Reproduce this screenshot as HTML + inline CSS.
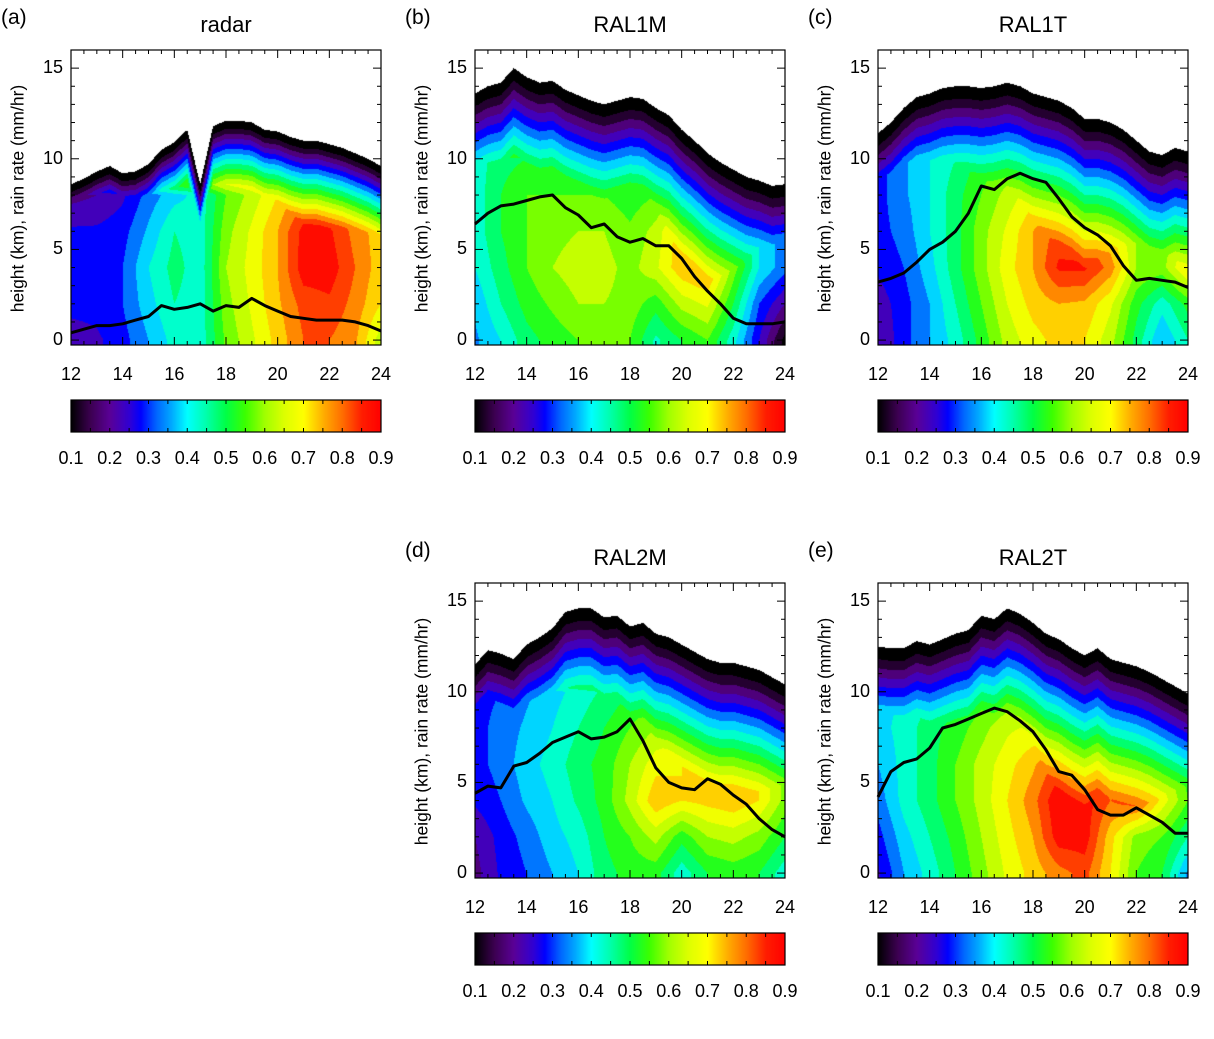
<!DOCTYPE html>
<html><head><meta charset="utf-8"><style>
body{margin:0;background:#fff;width:1214px;height:1039px;position:relative;overflow:hidden;font-family:"Liberation Sans",sans-serif}
.t{position:absolute;color:#000;white-space:nowrap}
canvas{position:absolute}
svg{position:absolute;left:0;top:0}
</style></head><body>
<svg id="ov" width="1214" height="1039"></svg>
<script>
const hourCols=[12,13,14,15,16,17,18,19,20,21,22,23,24];
const heightRows=[0,2,4,6,8,10,12,14,16];
const halfHours=[12,12.5,13,13.5,14,14.5,15,15.5,16,16.5,17,17.5,18,18.5,19,19.5,20,20.5,21,21.5,22,22.5,23,23.5,24];
const xTicks=[12,14,16,18,20,22,24];
const yTicks=[0,5,10,15];
const cbTicks=[0.1,0.2,0.3,0.4,0.5,0.6,0.7,0.8,0.9];
const HI=[.9,.9,.9,.9,.9,.9,.9,.9,.9,.9,.9,.9,.9];

const topA=[8.6,8.9,9.3,9.6,9.2,9.3,9.7,10.5,10.9,11.6,8.6,11.8,12.1,12.1,12,11.6,11.5,11.2,11,11,10.8,10.6,10.3,10,9.6];
const rainA=[0.4,0.6,0.8,0.8,0.9,1.1,1.3,1.9,1.7,1.8,2.0,1.6,1.9,1.8,2.3,1.9,1.6,1.3,1.2,1.1,1.1,1.1,1.0,0.8,0.5];
const gridA=[[.22,.24,.28,.35,.42,.42,.56,.64,.72,.80,.80,.76,.62],
[.27,.27,.30,.38,.45,.42,.58,.66,.74,.82,.84,.78,.70],
[.28,.28,.30,.40,.47,.42,.60,.67,.75,.88,.88,.80,.72],
[.26,.26,.28,.36,.45,.42,.58,.66,.75,.87,.86,.78,.72],
[.18,.20,.24,.32,.38,.42,.55,.62,.70,.78,.78,.72,.65],
HI,HI,HI,HI];

const topB=[13.6,14,14.2,15,14.5,14.2,14.3,13.8,13.5,13.2,13,13.2,13.4,13.3,12.8,12.4,11.6,11.0,10.3,9.8,9.4,9.0,8.8,8.5,8.6];
const rainB=[6.4,7,7.4,7.5,7.7,7.9,8,7.3,6.9,6.2,6.4,5.7,5.4,5.6,5.2,5.2,4.5,3.5,2.7,2,1.2,0.9,0.9,0.9,1.0];
const gridB=[[.34,.40,.48,.52,.55,.55,.55,.44,.50,.55,.42,.25,.08],
[.36,.45,.52,.56,.60,.60,.58,.52,.62,.66,.50,.30,.20],
[.40,.48,.55,.60,.63,.62,.58,.64,.74,.78,.58,.40,.32],
[.42,.50,.55,.58,.60,.60,.56,.62,.74,.76,.55,.40,.32],
[.42,.50,.55,.55,.55,.55,.52,.55,.60,.58,.48,.40,.32],
[.42,.48,.50,.50,.50,.50,.48,.50,.50,.45,.40,.35,.30],
HI,HI,HI];

const topC=[11.4,12,12.8,13.4,13.6,13.9,14,14,13.9,14,14.2,14,13.6,13.4,13.2,12.8,12.2,12.2,12,11.6,11.0,10.4,10.2,10.6,10.4];
const rainC=[3.2,3.4,3.7,4.3,5,5.4,6,7,8.5,8.3,8.9,9.2,8.9,8.7,7.8,6.8,6.2,5.8,5.2,4.1,3.3,3.4,3.3,3.2,2.9];
const gridC=[[.20,.28,.35,.42,.52,.62,.68,.72,.70,.62,.48,.35,.45],
[.22,.28,.35,.45,.55,.65,.72,.75,.74,.66,.52,.42,.52],
[.26,.30,.38,.48,.58,.68,.75,.86,.86,.78,.60,.58,.72],
[.28,.32,.40,.48,.58,.66,.75,.82,.80,.70,.60,.56,.65],
[.28,.34,.40,.48,.55,.62,.68,.70,.68,.62,.55,.50,.50],
[.28,.34,.40,.45,.52,.55,.58,.58,.55,.52,.48,.45,.45],
HI,HI,HI];

const topD=[11.5,12.3,12.1,11.8,12.6,13,13.5,14.4,14.6,14.6,14.1,14.2,13.6,13.8,13.2,13,12.6,12.2,11.8,11.6,11.6,11.4,11.2,10.8,10.4];
const rainD=[4.4,4.8,4.7,5.9,6.1,6.6,7.2,7.5,7.8,7.4,7.5,7.8,8.5,7.3,5.8,5,4.7,4.6,5.2,4.9,4.3,3.8,3,2.4,2.0];
const gridD=[[.18,.26,.30,.35,.40,.48,.52,.52,.42,.50,.52,.50,.42],
[.20,.27,.32,.38,.42,.50,.55,.62,.52,.60,.62,.58,.50],
[.26,.30,.36,.40,.46,.52,.62,.74,.70,.72,.74,.70,.58],
[.28,.32,.38,.42,.48,.52,.60,.68,.70,.78,.78,.70,.58],
[.28,.32,.36,.40,.45,.50,.55,.60,.62,.64,.62,.56,.50],
[.28,.30,.34,.38,.42,.46,.50,.52,.52,.52,.50,.46,.42],
HI,HI,HI];

const topE=[12.5,12.4,12.4,12.8,12.6,12.9,13.2,13.4,14.2,14,14.6,14.3,13.8,13.2,12.9,12.4,12,12.4,11.8,11.6,11.4,11.1,10.7,10.3,9.9];
const rainE=[4.2,5.6,6.1,6.3,6.9,8,8.2,8.5,8.8,9.1,8.9,8.4,7.8,6.8,5.6,5.4,4.6,3.5,3.2,3.2,3.6,3.2,2.8,2.2,2.2];
const gridE=[[.24,.35,.42,.50,.58,.66,.72,.78,.82,.70,.55,.50,.34],
[.28,.38,.45,.52,.60,.68,.75,.88,.88,.72,.58,.55,.45],
[.32,.42,.48,.55,.62,.70,.78,.90,.88,.80,.84,.68,.55],
[.35,.42,.48,.55,.62,.68,.74,.82,.78,.74,.72,.62,.52],
[.38,.42,.48,.52,.58,.64,.66,.66,.64,.62,.60,.55,.48],
[.38,.40,.44,.48,.52,.55,.56,.56,.54,.52,.50,.46,.42],
HI,HI,HI];

const panels=[
 {id:'a',title:'radar',L:71,T:50,top:topA,rain:rainA,grid:gridA,rate:0.18,c0:0.02},
 {id:'b',title:'RAL1M',L:475,T:50,top:topB,rain:rainB,grid:gridB,rate:0.1,c0:0.03},
 {id:'c',title:'RAL1T',L:878,T:50,top:topC,rain:rainC,grid:gridC,rate:0.1,c0:0.03},
 {id:'d',title:'RAL2M',L:475,T:583,top:topD,rain:rainD,grid:gridD,rate:0.1,c0:0.03},
 {id:'e',title:'RAL2T',L:878,T:583,top:topE,rain:rainE,grid:gridE,rate:0.1,c0:0.03}];

const W=310,H=295,PPU=18.13,HMAX=16;
const stops=[[0.1,0,0,0],[0.15,60,0,80],[0.2,90,0,150],[0.25,50,0,210],[0.28,0,0,255],[0.32,0,100,255],[0.36,0,170,255],[0.4,0,255,255],[0.45,0,255,170],[0.5,0,255,70],[0.55,60,255,0],[0.6,160,255,0],[0.65,220,255,0],[0.7,255,255,0],[0.75,255,176,0],[0.8,255,110,0],[0.85,255,30,0],[0.9,255,0,0]];
function cmap(v){
 if(v<=stops[0][0])return stops[0].slice(1);
 for(let i=1;i<stops.length;i++){if(v<=stops[i][0]){const a=stops[i-1],b=stops[i],t=(v-a[0])/(b[0]-a[0]);return [0,1,2].map(k=>Math.round(a[k+1]+t*(b[k+1]-a[k+1])));}}
 return stops[stops.length-1].slice(1);
}
function interp1(xs,ys,x){if(x<=xs[0])return ys[0];for(let i=1;i<xs.length;i++){if(x<=xs[i]){const t=(x-xs[i-1])/(xs[i]-xs[i-1]);return ys[i-1]+t*(ys[i]-ys[i-1]);}}return ys[ys.length-1];}
function gridVal(g,x,h){
 let ci=Math.min(11,Math.max(0,Math.floor(x-12))),tx=Math.min(1,Math.max(0,x-12-ci));
 let hh=Math.max(0,h),ri=Math.min(7,Math.floor(hh/2)),ty=Math.min(1,(hh-ri*2)/2);
 const a=g[ri][ci]*(1-tx)+g[ri][ci+1]*tx,b=g[ri+1][ci]*(1-tx)+g[ri+1][ci+1]*tx;
 return a*(1-ty)+b*ty;
}
const ns='http://www.w3.org/2000/svg';
const ov=document.getElementById('ov');
function sv(tag,at){const e=document.createElementNS(ns,tag);for(const k in at)e.setAttribute(k,at[k]);ov.appendChild(e);return e;}
function txt(s,x,y,size){const d=document.createElement('div');d.className='t';d.textContent=s;d.style.left=x+'px';d.style.top=y+'px';d.style.fontSize=size+'px';document.body.appendChild(d);return d;}

panels.forEach(p=>{
 const xs=h=>p.L+(h-12)/12*W;
 const ys=v=>p.T+(HMAX-v)*PPU;
 const cv=document.createElement('canvas');cv.width=W;cv.height=H;cv.style.left=p.L+'px';cv.style.top=p.T+'px';
 
 
 document.body.insertBefore(cv,ov);
 const ctx=cv.getContext('2d'),img=ctx.createImageData(W,H);
 for(let px=0;px<W;px++){
  const x=12+(px+0.5)/W*12,tp=interp1(halfHours,p.top,x);
  for(let py=0;py<H;py++){
   const h=HMAX-(py+0.5)/PPU;const o=(py*W+px)*4;
   if(h>tp){img.data[o]=255;img.data[o+1]=255;img.data[o+2]=255;img.data[o+3]=255;continue;}
   let v=Math.min(gridVal(p.grid,x,h),p.c0+p.rate*(tp-h));
   let q=Math.floor(v/0.05)*0.05;
   const c=q<0.1?[0,0,0]:cmap(Math.min(0.9,q+0.03));
   img.data[o]=c[0];img.data[o+1]=c[1];img.data[o+2]=c[2];img.data[o+3]=255;
  }
 }
 ctx.putImageData(img,0,0);
 let d='';p.rain.forEach((r,i)=>{d+=(i?'L':'M')+xs(halfHours[i]).toFixed(1)+','+ys(r).toFixed(1);});
 const ln=sv('path',{d:d,fill:'none',stroke:'#000','stroke-width':3,'stroke-linejoin':'round'});
 
 
 const fr=sv('rect',{x:p.L,y:p.T,width:W,height:H,fill:'none',stroke:'#000','stroke-width':1.2});
 
 
 for(let h=12;h<=24;h+=0.5){const X=xs(h),len=(h%2===0)?8:4;sv('line',{x1:X,x2:X,y1:p.T+H,y2:p.T+H-len,stroke:'#000'});sv('line',{x1:X,x2:X,y1:p.T,y2:p.T+len,stroke:'#000'});}
 for(let v=0;v<=16;v++){const Y=ys(v),len=(v%5===0)?8:4;sv('line',{x1:p.L,x2:p.L+len,y1:Y,y2:Y,stroke:'#000'});sv('line',{x1:p.L+W,x2:p.L+W-len,y1:Y,y2:Y,stroke:'#000'});}
 xTicks.forEach(t=>{const e=txt(String(t),xs(t)-14,p.T+314,18);e.style.width='28px';e.style.textAlign='center';
  });
 yTicks.forEach(t=>{const e=txt(String(t),p.L-42,ys(t)-11,18);e.style.width='34px';e.style.textAlign='right';
  });
 const ti=txt(p.title,p.L,p.T-38,22);ti.style.width=W+'px';ti.style.textAlign='center';
 
 const lb=txt('('+p.id+')',p.L-70,p.T-44,21);
 
 const yl=txt('height (km), rain rate (mm/hr)',0,0,17.5);
 yl.style.left=(p.L-53-140)+'px';yl.style.top=(p.T+138)+'px';yl.style.width='280px';yl.style.textAlign='center';yl.style.transform='rotate(-90deg)';
 
 const cbY=p.T+350;
 const cb=document.createElement('canvas');cb.width=W;cb.height=32;cb.style.left=p.L+'px';cb.style.top=cbY+'px';
 
 
 document.body.insertBefore(cb,ov);
 const c2=cb.getContext('2d');
 for(let px=0;px<W;px++){const c=cmap(0.1+(px+0.5)/W*0.8);c2.fillStyle='rgb('+c.join(',')+')';c2.fillRect(px,0,1,32);}
 sv('rect',{x:p.L,y:cbY,width:W,height:32,fill:'none',stroke:'#000','stroke-width':1.2});
 for(let v=0.1;v<=0.9001;v+=0.05){const X=p.L+(v-0.1)/0.8*W;sv('line',{x1:X,x2:X,y1:cbY+32,y2:cbY+28,stroke:'#000'});sv('line',{x1:X,x2:X,y1:cbY,y2:cbY+4,stroke:'#000'});}
 cbTicks.forEach(t=>{const X=p.L+(t-0.1)/0.8*W;const e=txt(t.toFixed(1),X-17,cbY+48,18);e.style.width='34px';e.style.textAlign='center';
  });
});
</script>
</body></html>
